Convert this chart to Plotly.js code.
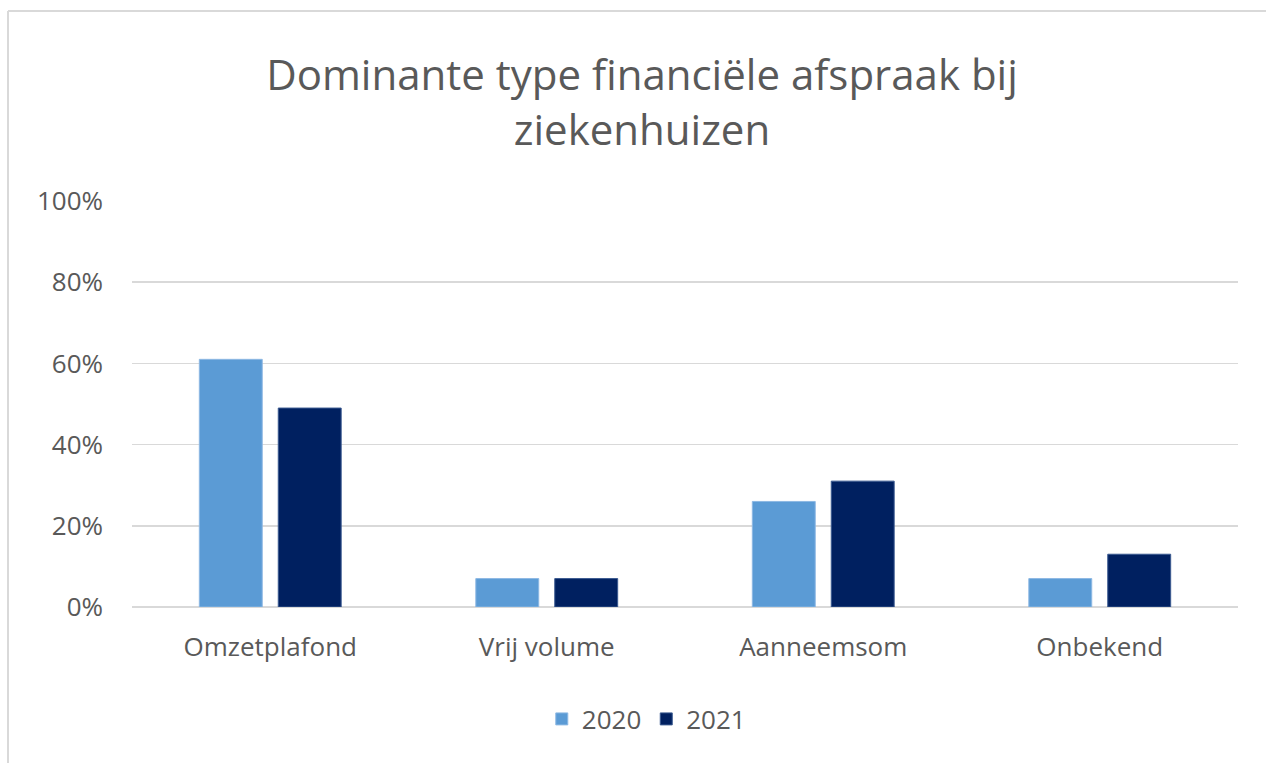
<!DOCTYPE html>
<html><head><meta charset="utf-8">
<script src="https://cdn.plot.ly/plotly-3.0.1.min.js"></script>
<style>html,body{margin:0;padding:0;background:#fff}#chart{width:1266px;height:763px}</style>
</head><body><div id="chart"></div>
<script>
const categories = ["Omzetplafond", "Vrij volume", "Aanneemsom", "Onbekend"];
const values2020 = [0.61, 0.07, 0.26, 0.07];
const values2021 = [0.49, 0.07, 0.31, 0.13];
const seriesNames = ["2020", "2021"];
const yTickVals = [0, 0.2, 0.4, 0.6, 0.8, 1.0];
const yTickText = ["0%", "20%", "40%", "60%", "80%", "100%"];

const font = "Open Sans, Liberation Sans, sans-serif";
const traces = [
  {type: "bar", name: seriesNames[0], x: categories, y: values2020,
   marker: {color: "#5B9BD5", line: {color: "#8DB8E3", width: 1}}, hoverinfo: "none"},
  {type: "bar", name: seriesNames[1], x: categories, y: values2021,
   marker: {color: "#002060", line: {color: "#3A5A90", width: 1}}, hoverinfo: "none"}
];
const layout = {
  width: 1266, height: 763,
  margin: {l: 132, r: 28, t: 201, b: 156},
  paper_bgcolor: "#fff", plot_bgcolor: "#fff",
  title: {text: "Dominante type financiële afspraak bij<br>ziekenhuizen",
          font: {family: font, size: 42, color: "#595959"},
          x: 642/1266, xanchor: "center", xref: "container",
          y: 1 - 90/763, yanchor: "middle", yref: "container"},
  barmode: "group", bargap: 0.429, bargroupgap: 0.203,
  xaxis: {type: "category", tickfont: {family: font, size: 26, color: "#595959"},
          showgrid: false, showline: false, ticks: "", ticklen: 0, ticklabelstandoff: 22},
  yaxis: {range: [0, 1.0], tickvals: yTickVals, ticktext: yTickText,
          tickfont: {family: font, size: 26, color: "#595959"},
          gridcolor: "#D9D9D9", gridwidth: 1.5, zeroline: true, zerolinecolor: "#D9D9D9",
          zerolinewidth: 1.5, showline: false, ticks: "", ticklabelstandoff: 28},
  showlegend: true,
  legend: {orientation: "h", x: 0.465, xanchor: "center", y: -112/406, yanchor: "middle",
           font: {family: font, size: 26, color: "#595959"}, itemwidth: 30, traceorder: "normal"},
  shapes: [
    {type: "line", xref: "paper", yref: "paper", layer: "below",
     x0: -124/1106, x1: 1.2, y0: 596/406, y1: 596/406,
     line: {color: "#D9D9D9", width: 2}},
    {type: "line", xref: "paper", yref: "paper", layer: "below",
     x0: -124/1106, x1: -124/1106, y0: 596/406, y1: -0.5,
     line: {color: "#D9D9D9", width: 2}}
  ]
};
Plotly.newPlot("chart", traces, layout, {displayModeBar: false, staticPlot: true});
</script></body></html>
